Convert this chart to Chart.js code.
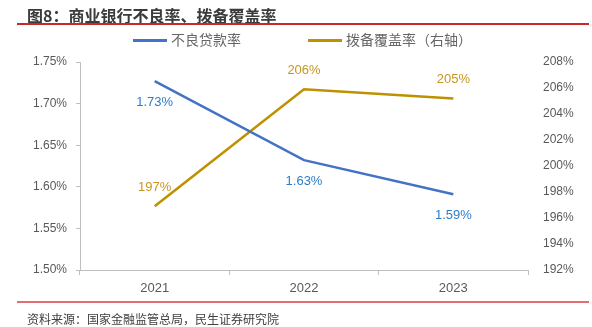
<!DOCTYPE html>
<html>
<head>
<meta charset="utf-8">
<script src="https://cdn.jsdelivr.net/npm/chart.js@4"></script>
<style>
  body { margin: 0; background: #fff; }
  #wrap { position: relative; width: 592px; height: 327px; overflow: hidden; font-family: "Noto Sans CJK SC", sans-serif; }
  #chart { position: absolute; left: 0; top: 0; }
  .title { position: absolute; left: 27px; top: 4px; font-size: 16px; font-weight: bold; color: #3a3a3a; line-height: 22px; }
  .rule-top { position: absolute; left: 17px; top: 23px; width: 572px; height: 2px; background: #c8282c; }
  .rule-bottom { position: absolute; left: 17px; top: 301px; width: 572px; height: 1.5px; background: #e07070; }
  .source { position: absolute; left: 27px; top: 311px; font-size: 12px; color: #404040; line-height: 16px; }
  .legend { position: absolute; top: 30px; font-size: 14px; color: #666; line-height: 18px; white-space: nowrap; }
  .legend i { display: inline-block; width: 34px; height: 3px; vertical-align: middle; margin-right: 4px; position: relative; top: -1px; }
</style>
</head>
<body>
<div id="wrap">
  <canvas id="chart" width="592" height="327"></canvas>
  <div class="title">图8：商业银行不良率、拨备覆盖率</div>
  <div class="rule-top"></div>
  <div class="legend" style="left:133px"><i style="background:#4472c4"></i>不良贷款率</div>
  <div class="legend" style="left:308px"><i style="background:#bf9000"></i>拨备覆盖率（右轴）</div>
  <div class="rule-bottom"></div>
  <div class="source">资料来源：国家金融监管总局，民生证券研究院</div>
</div>
<script>
// data
const years = ['2021', '2022', '2023'];
const nplRate = [1.727, 1.632, 1.591];        // 不良贷款率, %
const coverage = [196.9, 205.9, 205.2];       // 拨备覆盖率, %
const nplLabels = ['1.73%', '1.63%', '1.59%'];
const coverageLabels = ['197%', '206%', '205%'];

const labelFont = '13px "Liberation Sans", "Noto Sans", sans-serif';

// small inline data label plugin (no datalabels plugin available offline)
const pointLabels = {
  id: 'pointLabels',
  afterDatasetsDraw(chart) {
    const ctx = chart.ctx;
    chart.data.datasets.forEach((ds, i) => {
      const meta = chart.getDatasetMeta(i);
      ctx.save();
      ctx.font = labelFont;
      ctx.fillStyle = ds.labelColor;
      ctx.textAlign = 'center';
      ctx.textBaseline = 'middle';
      meta.data.forEach((pt, j) => {
        ctx.fillText(ds.labels[j], pt.x, pt.y + ds.labelOffset);
      });
      ctx.restore();
    });
  }
};

new Chart(document.getElementById('chart').getContext('2d'), {
  type: 'line',
  data: {
    labels: years,
    datasets: [
      {
        label: '不良贷款率',
        data: nplRate,
        yAxisID: 'y',
        borderColor: '#4472c4',
        backgroundColor: '#4472c4',
        borderWidth: 2.5,
        pointRadius: 0,
        tension: 0,
        labels: nplLabels,
        labelColor: '#2e7cc8',
        labelOffset: 21
      },
      {
        label: '拨备覆盖率（右轴）',
        data: coverage,
        yAxisID: 'y1',
        borderColor: '#bf9000',
        backgroundColor: '#bf9000',
        borderWidth: 2.5,
        pointRadius: 0,
        tension: 0,
        labels: coverageLabels,
        labelColor: '#c8961e',
        labelOffset: -19
      }
    ]
  },
  options: {
    responsive: false,
    animation: false,
    layout: { padding: { top: 62, bottom: 27, left: 0, right: 0 } },
    plugins: {
      legend: { display: false },
      tooltip: { enabled: false }
    },
    scales: {
      x: {
        offset: true,
        grid: { drawOnChartArea: false, offset: true, tickLength: 5, color: '#bfbfbf' },
        border: { color: '#bfbfbf' },
        ticks: { color: '#595959', font: { size: 13, family: '"Liberation Sans", sans-serif' }, padding: 6 },
        afterFit(scale) { scale.height = 30; }
      },
      y: {
        position: 'left',
        min: 1.5,
        max: 1.75,
        grid: { drawOnChartArea: false, tickLength: 4, color: '#bfbfbf' },
        border: { color: '#bfbfbf' },
        ticks: {
          stepSize: 0.05,
          color: '#595959',
          font: { size: 12, family: '"Liberation Sans", sans-serif' },
          padding: 9,
          callback: v => v.toFixed(2) + '%'
        },
        afterFit(scale) { scale.width = 80; }
      },
      y1: {
        position: 'right',
        min: 192,
        max: 208,
        grid: { display: false, drawTicks: false },
        border: { display: false },
        ticks: {
          stepSize: 2,
          color: '#595959',
          font: { size: 12, family: '"Liberation Sans", sans-serif' },
          padding: 15,
          callback: v => v + '%'
        },
        afterFit(scale) { scale.width = 64; }
      }
    }
  },
  plugins: [pointLabels]
});
</script>
</body>
</html>
